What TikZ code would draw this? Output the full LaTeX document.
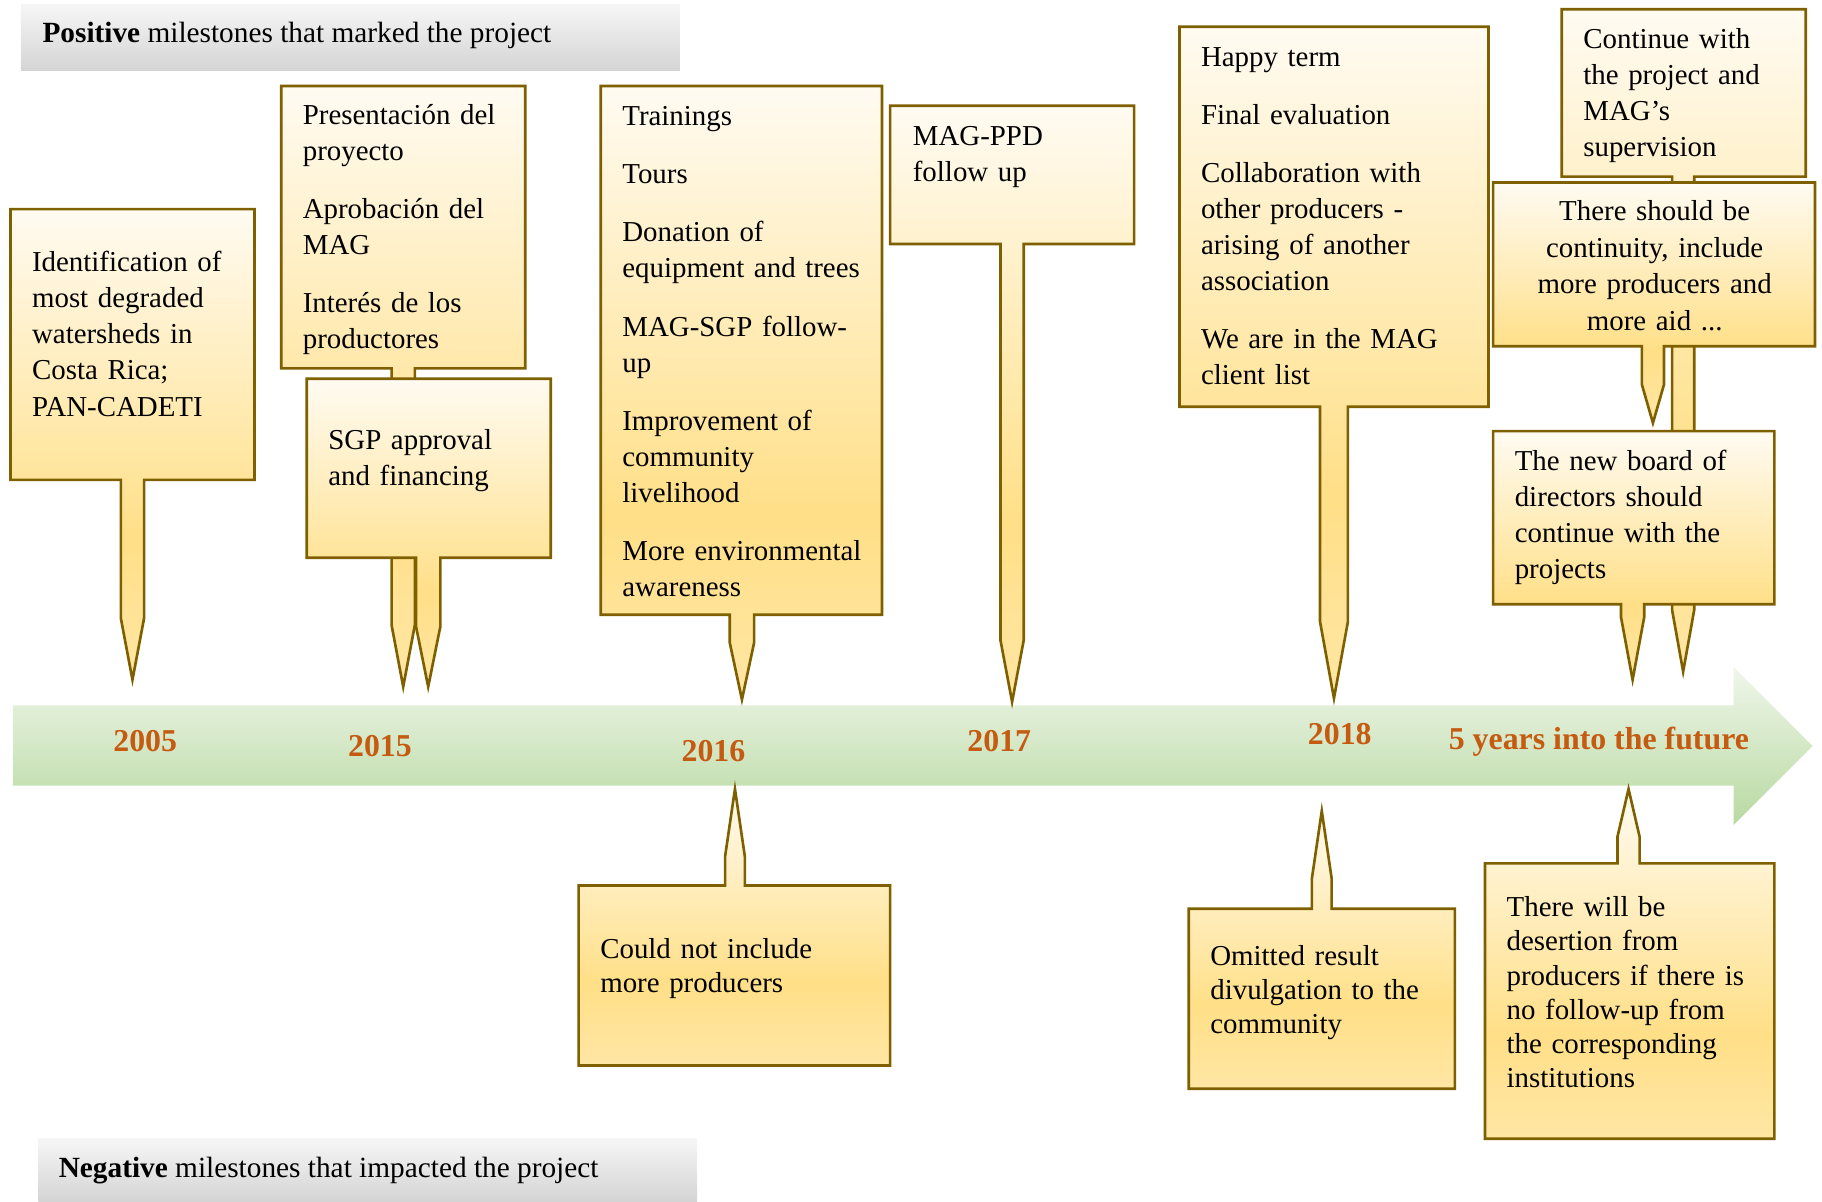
\documentclass[tikz,border=0pt]{standalone}
\usepackage{fontspec}
\setmainfont{Liberation Serif}

\definecolor{calloutLine}{HTML}{7F6000}
\definecolor{calloutTop}{HTML}{FFFBF2}
\definecolor{calloutMid}{HTML}{FFDF87}
\definecolor{calloutEnd}{HTML}{FFE6A4}
\definecolor{yearText}{HTML}{C55A11}
\definecolor{arrowTop}{HTML}{F0F6EA}
\definecolor{arrowBottom}{HTML}{B7D9A1}
\definecolor{headTop}{HTML}{F6F6F6}
\definecolor{headBottom}{HTML}{D4D4D4}

% three-stop fill of the callouts (the path's box maps to 25bp..75bp)
\pgfdeclareverticalshading{callout}{100bp}{%
  color(0bp)=(calloutEnd); color(25bp)=(calloutEnd);
  color(40bp)=(calloutMid); color(75bp)=(calloutTop); color(100bp)=(calloutTop)}

\tikzset{
  callout/.style={draw=calloutLine, line width=0.75pt, shading=callout, line join=miter},
  body/.style={inner sep=0pt, anchor=base west, align=left, text width=#1,
    font=\fontsize{8.22pt}{10.25pt}\selectfont},
  bodytight/.style={body=#1, font=\fontsize{8.22pt}{9.7pt}\selectfont},
  bodycenter/.style={inner sep=0pt, anchor=base, align=center, text width=#1,
    font=\fontsize{8.22pt}{10.4pt}\selectfont},
  year/.style={inner sep=0pt, text=yearText, font=\bfseries\fontsize{9.06pt}{11pt}\selectfont},
  header/.style={inner sep=0pt, anchor=base west, font=\fontsize{8.34pt}{10pt}\selectfont},
  headerbar/.style={top color=headTop, bottom color=headBottom, draw=none},
  timeline/.style={top color=arrowTop, bottom color=arrowBottom, draw=none},
}

% box (x1,y1)-(x2,y2), stem from xl to xr, taper starts at yt, point at yp
\newcommand\DownCallout[8]{\path[callout] (#1,#2) -- (#3,#2) -- (#3,#4) -- (#6,#4) -- (#6,#7)
  -- ({(#5+#6)/2},#8) -- (#5,#7) -- (#5,#4) -- (#1,#4) -- cycle;}
\newcommand\UpCallout[8]{\path[callout] (#1,#4) -- (#1,#2) -- (#5,#2) -- (#5,#7)
  -- ({(#5+#6)/2},#8) -- (#6,#7) -- (#6,#2) -- (#3,#2) -- (#3,#4) -- cycle;}

\begin{document}
\begin{tikzpicture}[x=0.1162mm, y=-0.1162mm]
\useasboundingbox (0,0) rectangle (1568,1034);

% headers
\path[headerbar] (18,4) rectangle (585,61);
\node[header] (posHead) at (36,37) {\textbf{Positive} milestones that marked the project};
\path[headerbar] (33,980) rectangle (600,1034);
\node[header] (negHead) at (50,1013) {\textbf{Negative} milestones that impacted the project};

% timeline arrow
\path[timeline] (11,607) -- (1492,607) -- (1492,574) -- (1560,642) -- (1492,710)
  -- (1492,676) -- (11,676) -- cycle;
\node[year] (y2005) at (125,638) {2005};
\node[year] (y2015) at (327,642) {2015};
\node[year] (y2016) at (614,646) {2016};
\node[year] (y2017) at (860,638) {2017};
\node[year] (y2018) at (1153,632) {2018};
\node[year] (yFuture) at (1376,638) {5 years into the future};

% positive milestones
\DownCallout{9}{180}{219}{413}{104}{124}{532}{585}
\node[body=28mm] (tA) at (27,234) {Identification of\\most degraded\\watersheds in\\Costa Rica;\\PAN-CADETI};

\DownCallout{242}{74}{452}{317}{337}{357}{538}{591}
\node[body=28mm] (tB) at (260,107) {Presentación del\\proyecto\\[6.3pt]Aprobación del\\MAG\\[6.3pt]Interés de los\\productores};

\DownCallout{264}{326}{474}{480}{358}{379}{539}{591}
\node[body=28mm] (tC) at (282,387) {SGP approval\\and financing};

\DownCallout{517}{74}{759}{529}{628}{649}{553}{602}
\node[body=30mm] (tD) at (535,108) {Trainings\\[6.3pt]Tours\\[6.3pt]Donation of\\equipment and trees\\[6.3pt]MAG-SGP follow-\\up\\[6.3pt]Improvement of\\community\\livelihood\\[6.3pt]More environmental\\awareness};

\DownCallout{766}{91}{976}{210}{861}{881}{551}{604}
\node[body=28mm] (tE) at (785,125) {MAG-PPD\\follow up};

\DownCallout{1015}{23}{1281}{350}{1136}{1160}{535}{601}
\node[body=30mm] (tF) at (1033,57) {Happy term\\[6.3pt]Final evaluation\\[6.3pt]Collaboration with\\other producers -\\arising of another\\association\\[6.3pt]We are in the MAG\\client list};

\DownCallout{1344}{8}{1554}{152}{1439}{1458}{525}{578}
\node[body=28mm] (tG) at (1362,42) {Continue with\\the project and\\MAG’s\\supervision};

\DownCallout{1285}{157}{1562}{298}{1413}{1432}{331}{364}
\node[bodycenter=30mm] (tH) at (1424,190) {There should be\\continuity, include\\more producers and\\more aid ...};

\DownCallout{1285}{371}{1527}{520}{1395}{1415}{531}{585}
\node[body=28mm] (tI) at (1303,405) {The new board of\\directors should\\continue with the\\projects};

% negative milestones
\UpCallout{498}{762}{766}{917}{624}{641}{737}{679}
\node[bodytight=28mm] (tJ) at (516,825) {Could not include\\more producers};

\UpCallout{1023}{782}{1252}{937}{1129}{1146}{756}{698}
\node[bodytight=28mm] (tK) at (1041,831) {Omitted result\\divulgation to the\\community};

\UpCallout{1278}{743}{1527}{980}{1392}{1411}{720}{679}
\node[bodytight=28mm] (tL) at (1296,789) {There will be\\desertion from\\producers if there is\\no follow-up from\\the corresponding\\institutions};
\end{tikzpicture}
\end{document}
